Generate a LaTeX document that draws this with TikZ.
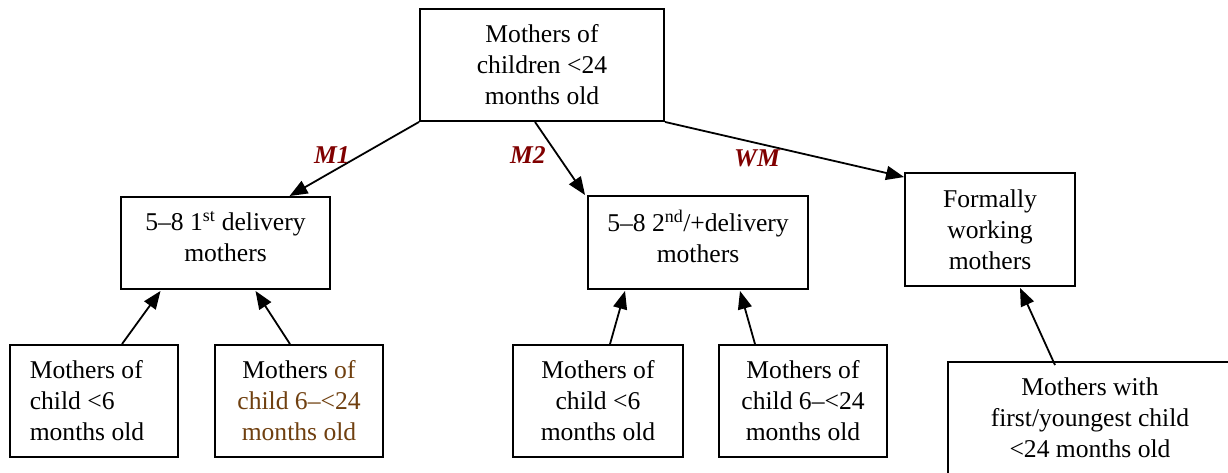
\documentclass[tikz,border=0pt]{standalone}
\usepackage{fontspec}
\setmainfont{Liberation Serif}
\usetikzlibrary{arrows.meta}
\definecolor{lblred}{RGB}{128,0,0}
\definecolor{brownt}{RGB}{112,64,16}
\begin{document}
\begin{tikzpicture}[x=1pt,y=-1pt,
 box/.style={draw,line width=1.9pt,align=center,inner sep=0pt,font=\fontsize{25.6}{31}\selectfont},
 arr/.style={line width=1.8pt,-{Triangle[length=18pt,width=14pt]}},
 lbl/.style={text=lblred,font=\fontsize{25.6}{31}\selectfont\bfseries\itshape}]
\useasboundingbox (0,0) rectangle (1228,473);
\clip (0,0) rectangle (1228,473);
\fill[white] (0,0) rectangle (1228,473);
% top
\node[box,minimum width=244pt,minimum height=112pt] (top) at (542,65) {Mothers of\\children <24\\months old};
% middle level
\node[box,minimum width=209pt,minimum height=92pt] (m1) at (225.5,243) {5–8 1\textsuperscript{st} delivery\\mothers\\[-18pt]\mbox{}};
\node[box,minimum width=220pt,minimum height=93pt] (m2) at (698,242.5) {5–8 2\textsuperscript{nd}/+delivery\\mothers\\[-18pt]\mbox{}};
\node[box,minimum width=170pt,minimum height=113pt] (wm) at (990,229.5) {Formally\\working\\mothers};
% bottom level
\node[box,align=left,minimum width=168pt,minimum height=112pt] (b1) at (94,401) {Mothers of\\child <6\\months old\hspace*{14pt}};
\node[box,minimum width=168pt,minimum height=112pt] (b2) at (299,401) {Mothers \textcolor{brownt}{of}\\\textcolor{brownt}{child 6–<24}\\\textcolor{brownt}{months old}};
\node[box,minimum width=170pt,minimum height=112pt] (b3) at (598,401) {Mothers of\\child <6\\months old};
\node[box,minimum width=168pt,minimum height=112pt] (b4) at (803,401) {Mothers of\\child 6–<24\\months old};
\node[box,minimum width=284pt,minimum height=112pt] (b5) at (1090,418) {Mothers with\\first/youngest child\\<24 months old};
% arrows from top
\draw[arr] (top.south west) -- ([xshift=64pt]m1.north);
\draw[arr] ([xshift=-7pt]top.south) -- ([xshift=-2pt]m2.north west);
\draw[arr] (top.south east) -- ([yshift=-5pt]wm.north west);
% arrows from bottom
\draw[arr] ([xshift=28pt]b1.north) -- ([xshift=-65pt,yshift=-1pt]m1.south);
\draw[arr] ([xshift=-9pt]b2.north) -- ([xshift=30pt,yshift=-1pt]m1.south);
\draw[arr] ([xshift=12pt]b3.north) -- ([xshift=-73pt,yshift=-1pt]m2.south);
\draw[arr] ([xshift=-48pt]b4.north) -- ([xshift=42pt,yshift=-1pt]m2.south);
\draw[arr] ([xshift=-35pt,yshift=-4pt]b5.north) -- ([xshift=30pt,yshift=-1pt]wm.south);
% labels
\node[lbl] (l1) at (332,155) {M1};
\node[lbl] (l2) at (528,155) {M2};
\node[lbl] (l3) at (757,158) {WM};
\end{tikzpicture}
\end{document}
